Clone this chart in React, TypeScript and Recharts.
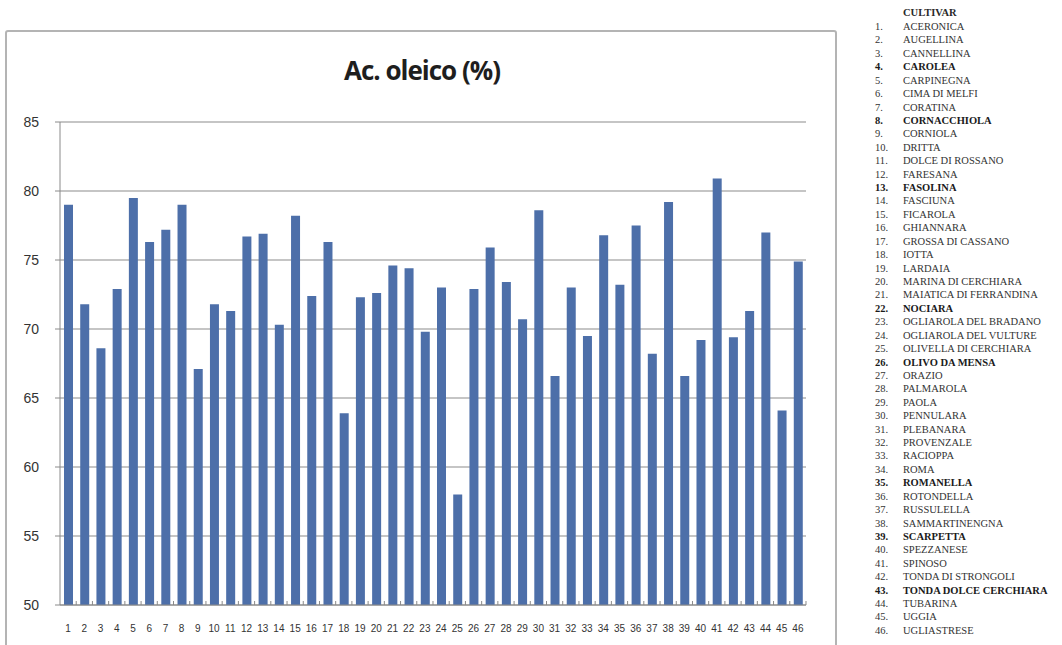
import React from "react";
import { BarChart, Bar, XAxis, YAxis, CartesianGrid } from "recharts";

const categories: string[] = Array.from({ length: 46 }, (_, i) => String(i + 1));

const oleico: number[] = [
  79.0, 71.8, 68.6, 72.9, 79.5, 76.3, 77.2, 79.0, 67.1, 71.8,
  71.3, 76.7, 76.9, 70.3, 78.2, 72.4, 76.3, 63.9, 72.3, 72.6,
  74.6, 74.4, 69.8, 73.0, 58.0, 72.9, 75.9, 73.4, 70.7, 78.6,
  66.6, 73.0, 69.5, 76.8, 73.2, 77.5, 68.2, 79.2, 66.6, 69.2,
  80.9, 69.4, 71.3, 77.0, 64.1, 74.9,
];

const yTicks: number[] = [50, 55, 60, 65, 70, 75, 80, 85];

const cultivars: string[] = [
  "ACERONICA", "AUGELLINA", "CANNELLINA", "CAROLEA", "CARPINEGNA",
  "CIMA DI MELFI", "CORATINA", "CORNACCHIOLA", "CORNIOLA", "DRITTA",
  "DOLCE DI ROSSANO", "FARESANA", "FASOLINA", "FASCIUNA", "FICAROLA",
  "GHIANNARA", "GROSSA DI CASSANO", "IOTTA", "LARDAIA", "MARINA DI CERCHIARA",
  "MAIATICA DI FERRANDINA", "NOCIARA", "OGLIAROLA DEL BRADANO", "OGLIAROLA DEL VULTURE", "OLIVELLA DI CERCHIARA",
  "OLIVO DA MENSA", "ORAZIO", "PALMAROLA", "PAOLA", "PENNULARA",
  "PLEBANARA", "PROVENZALE", "RACIOPPA", "ROMA", "ROMANELLA",
  "ROTONDELLA", "RUSSULELLA", "SAMMARTINENGNA", "SCARPETTA", "SPEZZANESE",
  "SPINOSO", "TONDA DI STRONGOLI", "TONDA DOLCE CERCHIARA", "TUBARINA", "UGGIA",
  "UGLIASTRESE",
];

const boldCultivars: number[] = [4, 8, 13, 22, 26, 35, 39, 43];

const data = categories.map((c, i) => ({ name: c, value: oleico[i] }));

const XTick = (props: any) => {
  const { x, y, payload } = props;
  return (
    <g>
      <line x1={x + 8.1} x2={x + 8.1} y1={y - 12} y2={y - 8} stroke="#8a8a8a" />
      <text
        x={x}
        y={y + 19}
        textAnchor="middle"
        fontSize={10}
        fontFamily="'Liberation Sans Narrow', 'Liberation Sans', sans-serif"
        fill="#333"
      >
        {payload.value}
      </text>
    </g>
  );
};

export default function App() {
  return (
    <div
      style={{
        position: "absolute",
        left: 0,
        top: 0,
        width: 1062,
        height: 645,
        background: "#fff",
        overflow: "hidden",
      }}
    >
      <div
        style={{
          position: "absolute",
          left: 5,
          top: 30,
          width: 832,
          height: 640,
          border: "2px solid #b4b4b4",
          borderRadius: 3,
          boxSizing: "border-box",
        }}
      />
      <div
        style={{
          position: "absolute",
          left: 300,
          top: 52,
          width: 244,
          textAlign: "center",
          fontFamily: "'Open Sans', 'Liberation Sans', sans-serif",
          fontWeight: 700,
          fontSize: 26,
          letterSpacing: -1,
          color: "#1e1e1e",
        }}
      >
        Ac. oleico (%)
      </div>
      <div style={{ position: "absolute", left: 0, top: 0 }}>
        <BarChart
          width={840}
          height={645}
          data={data}
          margin={{ top: 122, right: 34, left: 0, bottom: 0 }}
        >
          <CartesianGrid vertical={false} stroke="#8c8c8c" strokeWidth={1.2} />
          <XAxis
            dataKey="name"
            interval={0}
            height={40}
            tickLine={false}
            axisLine={{ stroke: "#8a8a8a" }}
            tick={<XTick />}
          />
          <YAxis
            domain={[50, 85]}
            ticks={yTicks}
            width={60}
            tickSize={5}
            tickMargin={16}
            axisLine={{ stroke: "#8a8a8a" }}
            tickLine={{ stroke: "#8a8a8a" }}
            tick={{
              fontSize: 14,
              fill: "#333",
              fontFamily: "'Liberation Sans Narrow', 'Liberation Sans', sans-serif",
            }}
          />
          <Bar dataKey="value" fill="#4d6fa9" barSize={9} isAnimationActive={false} />
        </BarChart>
      </div>
      <div
        style={{
          position: "absolute",
          left: 870,
          top: 0,
          width: 192,
          fontFamily: "'Liberation Serif', 'DejaVu Serif', serif",
          fontSize: 10.5,
          color: "#2a2a2a",
        }}
      >
        <div
          style={{
            position: "absolute",
            left: 33,
            top: 7,
            fontWeight: "bold",
            whiteSpace: "nowrap",
            lineHeight: "12px",
          }}
        >
          CULTIVAR
        </div>
        {cultivars.map((name, i) => {
          const bold = boldCultivars.includes(i + 1);
          return (
            <div
              key={name}
              style={{
                position: "absolute",
                left: 0,
                top: 21 + i * 13.42,
                lineHeight: "12px",
                whiteSpace: "nowrap",
                fontWeight: bold ? "bold" : "normal",
                color: bold ? "#1a1a1a" : "#333",
              }}
            >
              <span style={{ display: "inline-block", width: 33, paddingLeft: 5, boxSizing: "border-box" }}>
                {i + 1}.
              </span>
              {name}
            </div>
          );
        })}
      </div>
    </div>
  );
}
